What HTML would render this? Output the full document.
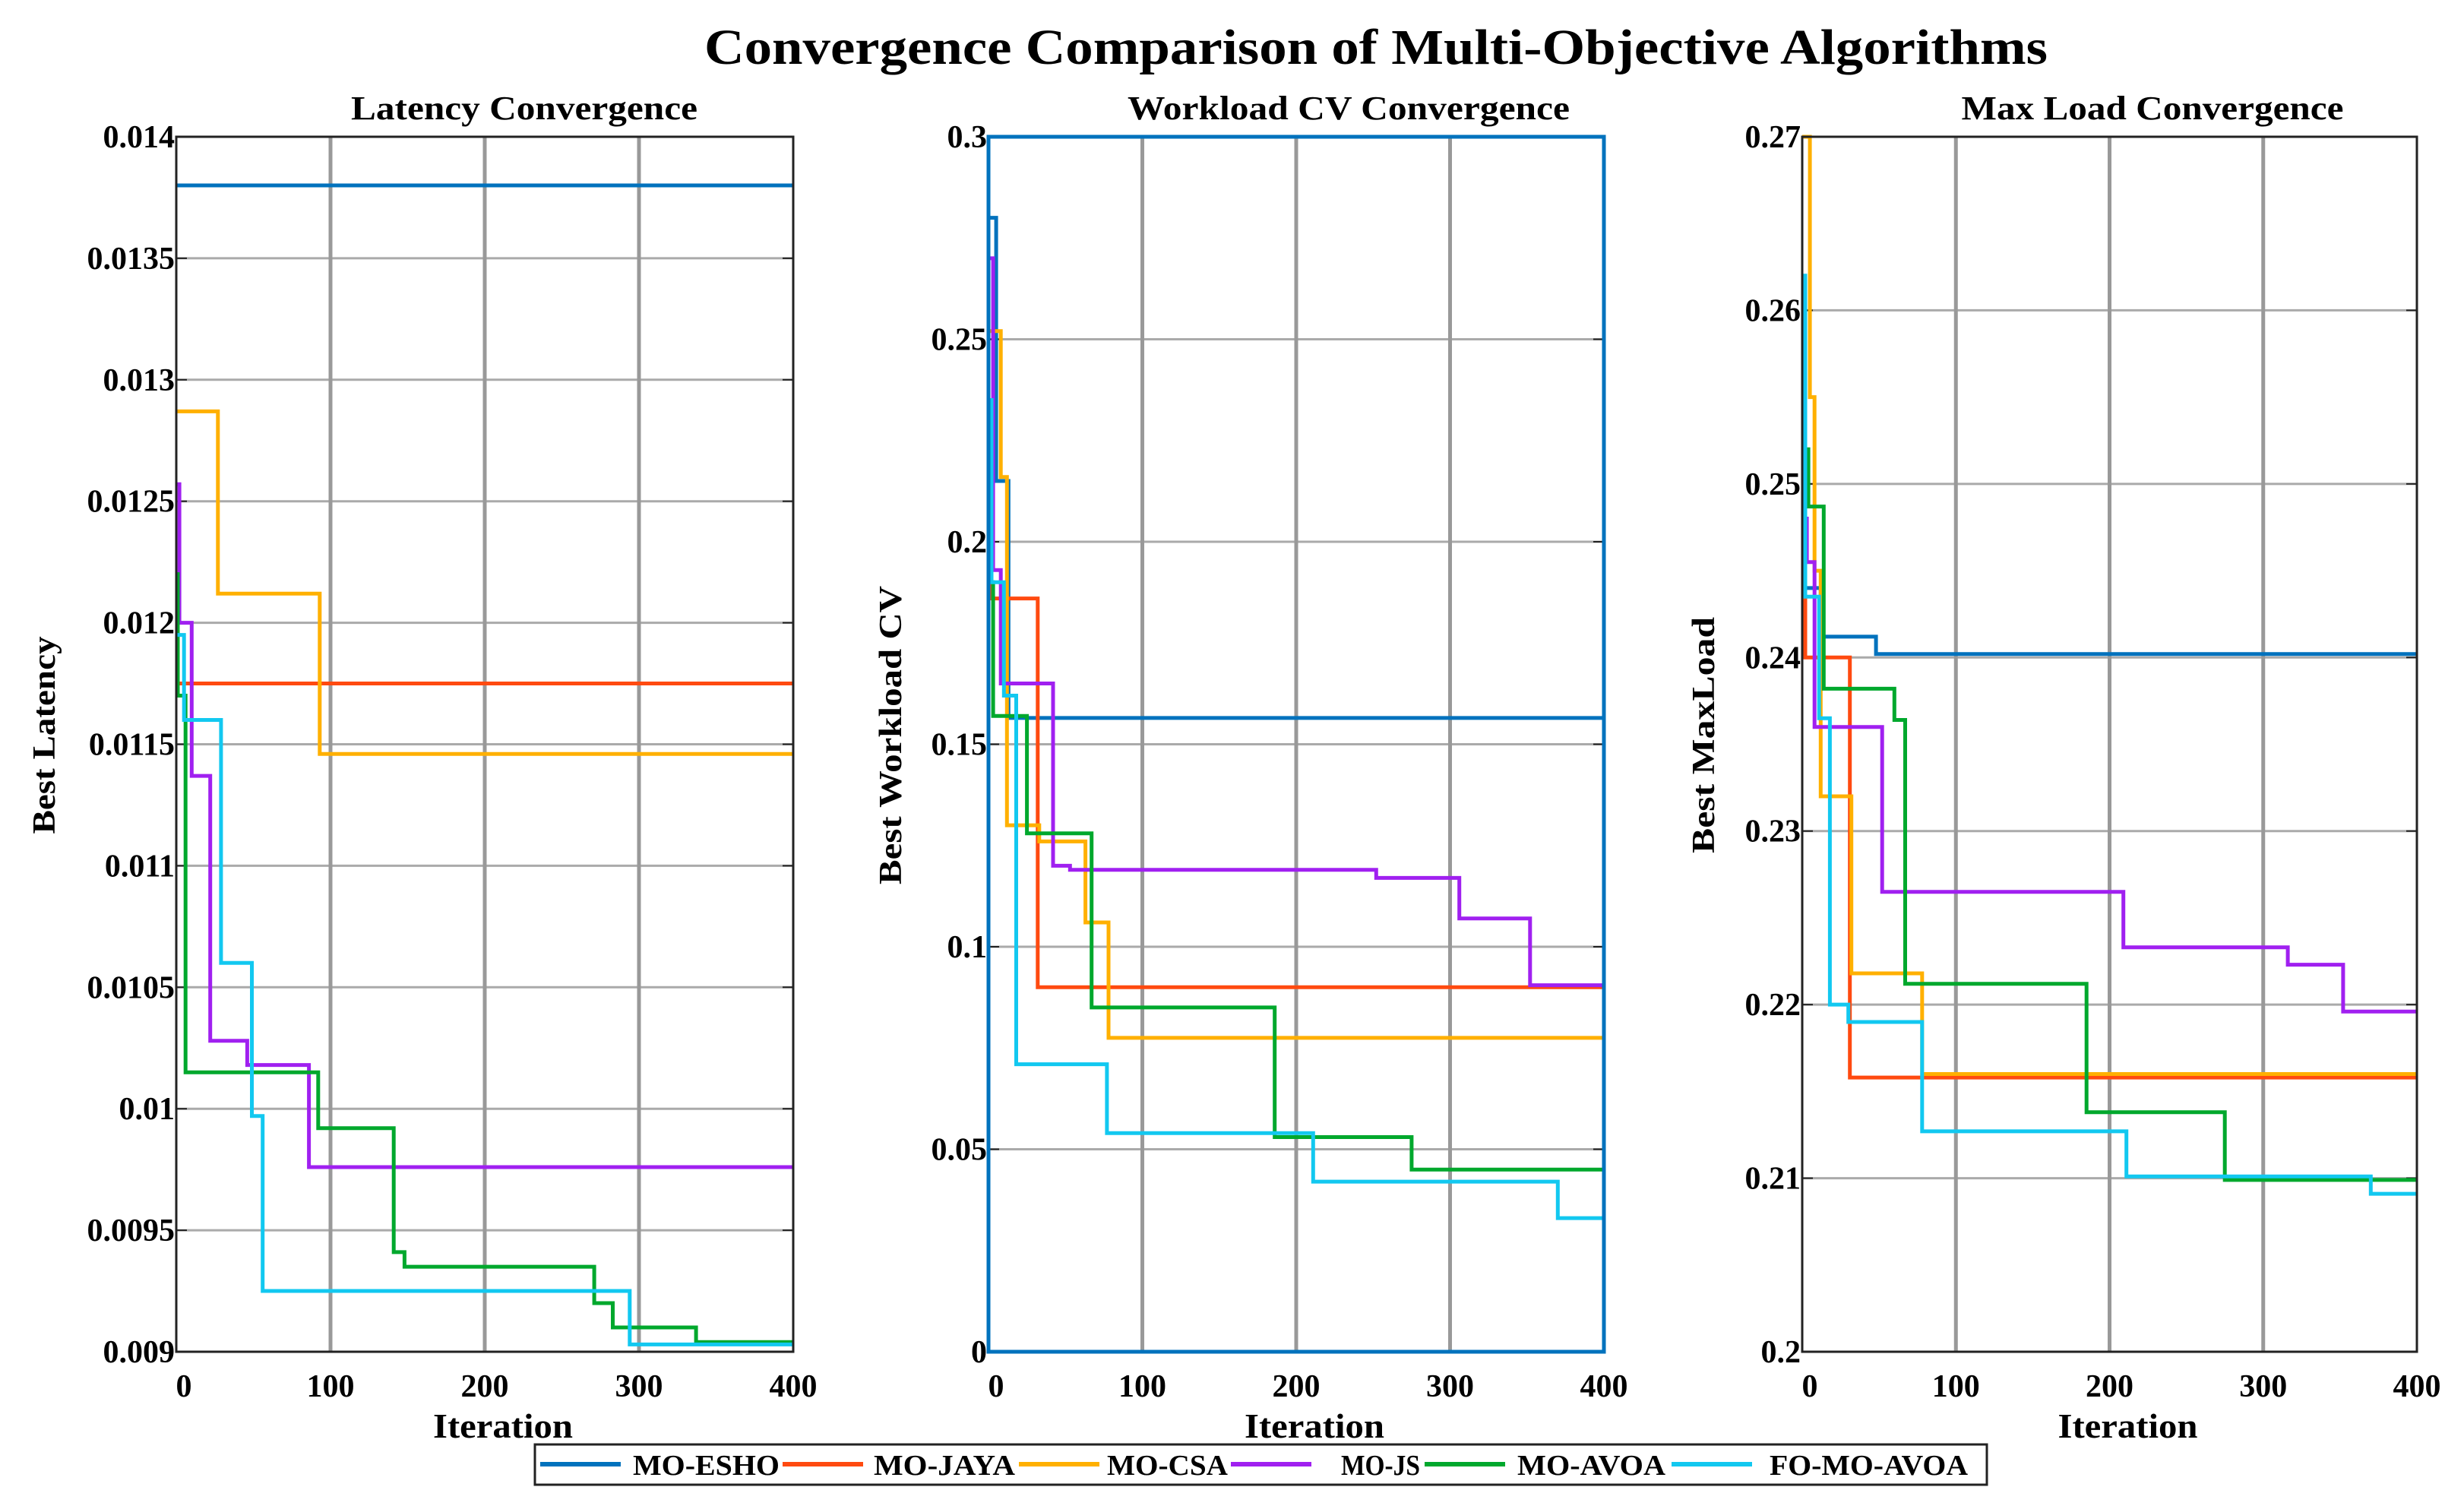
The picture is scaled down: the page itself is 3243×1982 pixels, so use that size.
<!DOCTYPE html>
<html><head><meta charset="utf-8"><style>
html,body{margin:0;padding:0;background:#fff;}
svg{display:block;}
text{font-family:"Liberation Serif",serif;font-weight:bold;fill:#000;}
</style></head><body>
<svg id="fig" width="3243" height="1982" viewBox="0 0 3243 1982" xmlns="http://www.w3.org/2000/svg">
<rect width="3243" height="1982" fill="#fff"/>
<text x="1811" y="84" font-size="66" text-anchor="middle" textLength="1768" lengthAdjust="spacingAndGlyphs">Convergence Comparison of Multi-Objective Algorithms</text>
<g id="panels"></g>
<g id="legend"></g>
</svg>
<script>
const NS="http://www.w3.org/2000/svg";
const seriesNames=["MO-ESHO","MO-JAYA","MO-CSA","MO-JS","MO-AVOA","FO-MO-AVOA"];
const seriesColors=["#0072BD","#FF4A10","#FFB000","#A020F0","#00A82D","#12C8F0"];
const xTicks=[0,100,200,300,400];

// Panel 1: Latency (step breakpoints x, values y)
const latX=[[0,400],[0,400],[0,27,93,400],[0,2,10,22,46,86,400],[0,1,6,92,141,148,271,283,337,400],[0,5,29,49,56,294,400]];
const latY=[[0.0138],[0.01175],[0.01287,0.01212,0.01146],[0.01257,0.0120,0.01137,0.01028,0.01018,0.00976],[0.0122,0.0117,0.01015,0.00992,0.00941,0.00935,0.0092,0.0091,0.00904],[0.01195,0.0116,0.0106,0.00997,0.00925,0.00903]];
const latTicks=[0.009,0.0095,0.01,0.0105,0.011,0.0115,0.012,0.0125,0.013,0.0135,0.014];
const latTickLabels=["0.009","0.0095","0.01","0.0105","0.011","0.0115","0.012","0.0125","0.013","0.0135","0.014"];

// Panel 2: Workload CV
const cvX=[[0,5,13,400],[0,2,32,400],[0,8,12,33,63,78,400],[0,3,8,42,53,252,306,352,400],[0,3,25,67,186,275,400],[0,2,10,18,77,211,370,400]];
const cvY=[[0.28,0.215,0.1565],[0.21,0.186,0.09],[0.252,0.216,0.13,0.126,0.106,0.0775],[0.27,0.193,0.165,0.12,0.119,0.117,0.107,0.0905],[0.19,0.157,0.128,0.085,0.053,0.045],[0.235,0.19,0.162,0.071,0.054,0.042,0.033]];
const cvTicks=[0,0.05,0.1,0.15,0.2,0.25,0.3];
const cvTickLabels=["0","0.05","0.1","0.15","0.2","0.25","0.3"];

// Panel 3: Max Load
const mlX=[[0,2,12,48,400],[0,2,31,400],[0,5,8,12,32,78,400],[0,3,8,52,209,316,352,400],[0,4,14,60,67,185,275,400],[0,2,11,18,30,78,211,370,400]];
const mlY=[[0.245,0.244,0.2412,0.2402],[0.245,0.240,0.2158],[0.27,0.255,0.245,0.232,0.2218,0.216],[0.248,0.2455,0.236,0.2265,0.2233,0.2223,0.2196],[0.252,0.2487,0.2382,0.2364,0.2212,0.2138,0.2099],[0.262,0.2435,0.2365,0.22,0.219,0.2127,0.2101,0.2091]];
const mlTicks=[0.2,0.21,0.22,0.23,0.24,0.25,0.26,0.27];
const mlTickLabels=["0.2","0.21","0.22","0.23","0.24","0.25","0.26","0.27"];

const panels=[
 {id:"latency",title:"Latency Convergence",tcx:690,tlen:456,ylab:"Best Latency",ylen:260,x0:232,x1:1044,xs:latX,ys:latY,ticks:latTicks,labels:latTickLabels,ylx:58,box:"#222"},
 {id:"workload-cv",title:"Workload CV Convergence",tcx:1775,tlen:582,ylab:"Best Workload CV",ylen:393,x0:1301,x1:2111,xs:cvX,ys:cvY,ticks:cvTicks,labels:cvTickLabels,ylx:1172,box:"#0072BD"},
 {id:"max-load",title:"Max Load Convergence",tcx:2833,tlen:503,ylab:"Best MaxLoad",ylen:311,x0:2372,x1:3181,xs:mlX,ys:mlY,ticks:mlTicks,labels:mlTickLabels,ylx:2242,box:"#222"}
];
const Y0=1779,Y1=180;
const root=document.getElementById("panels");
function mk(tag,attrs,parent){const e=document.createElementNS(NS,tag);for(const k in attrs)e.setAttribute(k,attrs[k]);parent.appendChild(e);return e;}

panels.forEach(p=>{
 const g=mk("g",{},root);
 
 
 const ymin=p.ticks[0],ymax=p.ticks[p.ticks.length-1];
 const sx=v=>p.x0+(v-0)/(400-0)*(p.x1-p.x0);
 const sy=v=>Y0-(v-ymin)/(ymax-ymin)*(Y0-Y1);
 p.ticks.forEach((t,i)=>{
  const y=sy(t);
  if(i>0&&i<p.ticks.length-1){const l=mk("line",{x1:p.x0,x2:p.x1,y1:y,y2:y,stroke:"#aaa","stroke-width":3},g);
   }
  mk("line",{x1:p.x0,x2:p.x0+14,y1:y,y2:y,stroke:"#222","stroke-width":2},g);
  mk("line",{x1:p.x1,x2:p.x1-14,y1:y,y2:y,stroke:"#222","stroke-width":2},g);
  const tx=mk("text",{x:p.x0-2,y:y+14,"font-size":42,"text-anchor":"end"},g);
  tx.textContent=p.labels[i];
  
 });
 xTicks.forEach((t,i)=>{
  const x=sx(t);
  if(i>0&&i<xTicks.length-1){const l=mk("line",{x1:x,x2:x,y1:Y1,y2:Y0,stroke:"#999","stroke-width":5},g);
   }
  const tx=mk("text",{x:x+(i==0?10:0),y:1838,"font-size":42,"text-anchor":"middle"},g);
  tx.textContent=String(t);
  
 });
 p.xs.forEach((xs,si)=>{
  const ys=p.ys[si];let d="";
  for(let k=0;k<ys.length;k++){
   const xa=sx(xs[k]),xb=sx(xs[k+1]),y=sy(ys[k]);
   d+=(k==0?"M":"L")+xa.toFixed(1)+" "+y.toFixed(1)+" L"+xb.toFixed(1)+" "+y.toFixed(1)+" ";
  }
  const path=mk("path",{d:d,fill:"none",stroke:seriesColors[si],"stroke-width":5,"stroke-linejoin":"miter"},g);
  
  
 });
 const box=mk("rect",{x:p.x0,y:Y1,width:p.x1-p.x0,height:Y0-Y1,fill:"none",stroke:p.box,"stroke-width":p.box=="#222"?3:5},g);
 
 const tt=mk("text",{x:p.tcx,y:157,"font-size":44,"text-anchor":"middle",textLength:p.tlen,lengthAdjust:"spacingAndGlyphs"},g);
 tt.textContent=p.title;
 
 const xl=mk("text",{x:(p.x0+p.x1)/2+24,y:1892,"font-size":46,"text-anchor":"middle",textLength:184,lengthAdjust:"spacingAndGlyphs"},g);
 xl.textContent="Iteration";
 
 const yl=mk("text",{x:0,y:0,"font-size":42,"text-anchor":"middle",textLength:p.ylen,lengthAdjust:"spacingAndGlyphs",transform:`translate(${p.ylx+14},${(Y0+Y1)/2-12}) rotate(-90)`},g);
 yl.textContent=p.ylab;
 
});

const lg=document.getElementById("legend");
mk("rect",{x:704,y:1901,width:1911,height:53,fill:"#fff",stroke:"#222","stroke-width":3},lg);
const legLineX=[711,1030,1341,1620,1875,2200];
const legTextX=[833,1150,1457,1765,1997,2329];
const legTextLen=[193,186,159,104,195,261];
seriesNames.forEach((n,i)=>{
 const l=mk("line",{x1:legLineX[i],x2:legLineX[i]+106,y1:1927,y2:1927,stroke:seriesColors[i],"stroke-width":6},lg);
 
 const t=mk("text",{x:legTextX[i],y:1941,"font-size":38,textLength:legTextLen[i],lengthAdjust:"spacingAndGlyphs"},lg);
 t.textContent=n;
 
});
</script>
</body></html>
